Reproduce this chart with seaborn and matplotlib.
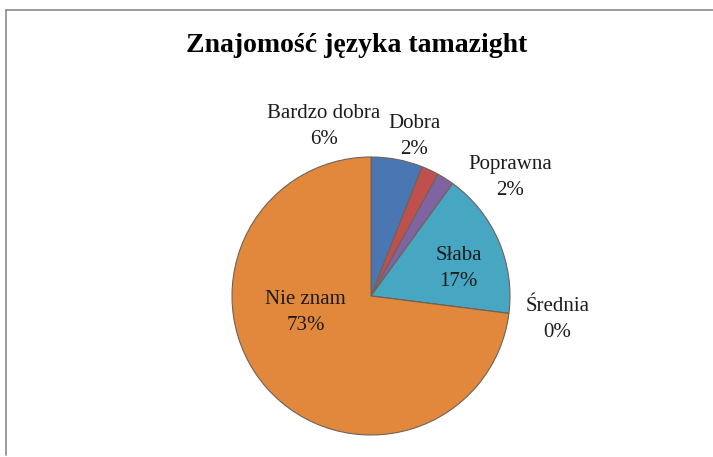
import matplotlib
matplotlib.use("Agg")
import matplotlib.pyplot as plt
from matplotlib.lines import Line2D
import seaborn as sns

# Survey answers: knowledge of the Tamazight language
categories = ["Bardzo dobra", "Dobra", "Poprawna", "Słaba", "Średnia", "Nie znam"]
shares = [6, 2, 2, 17, 0, 73]
title = "Znajomość języka tamazight"

# Office-style slice colours
palette = sns.color_palette(["#4A77B4", "#C0504D", "#8064A2", "#47A6C2", "#9BBB59", "#E2883C"])

# Label anchor points in units of the pie radius
label_pos = [(-0.34, 1.22), (0.31, 1.15), (1.00, 0.85), (0.63, 0.20), (1.34, -0.17), (-0.47, -0.12)]

sns.set_theme(style="white")
plt.rcParams["font.family"] = ["Liberation Serif", "DejaVu Serif"]

W, H, DPI = 713, 457, 100
fig = plt.figure(figsize=(W / DPI, H / DPI), dpi=DPI)
fig.patch.set_facecolor("white")

# Pie centre and radius in pixels
cx, cy, r = 371, 296, 139
ax = fig.add_axes([0, 0, 1, 1])

ax.pie(shares, colors=palette, startangle=90, counterclock=False, radius=1,
       wedgeprops=dict(edgecolor="#6f6258", linewidth=0.8))
ax.set_xlim(-cx / r, (W - cx) / r)
ax.set_ylim(-(H - cy) / r, cy / r)
ax.set_aspect("equal", adjustable="datalim")
ax.set_axis_off()

for name, val, (x, y) in zip(categories, shares, label_pos):
    ax.text(x, y, f"{name}\n{val}%", ha="center", va="center",
            fontsize=15, color="#1c1c1c", linespacing=1.5)

fig.text(0.5, 1 - 45 / H, title, ha="center", va="center",
         fontsize=20, fontweight="bold", color="black")

# Chart-area border (left and top edges)
fig.add_artist(Line2D([6 / W, 6 / W], [1 - 10 / H, 0.005], color="#8a8a8a", lw=1.2,
                      transform=fig.transFigure))
fig.add_artist(Line2D([6 / W, 1.0], [1 - 10 / H, 1 - 10 / H], color="#8a8a8a", lw=1.2,
                      transform=fig.transFigure))

fig.savefig("out.png", dpi=DPI, facecolor="white")
